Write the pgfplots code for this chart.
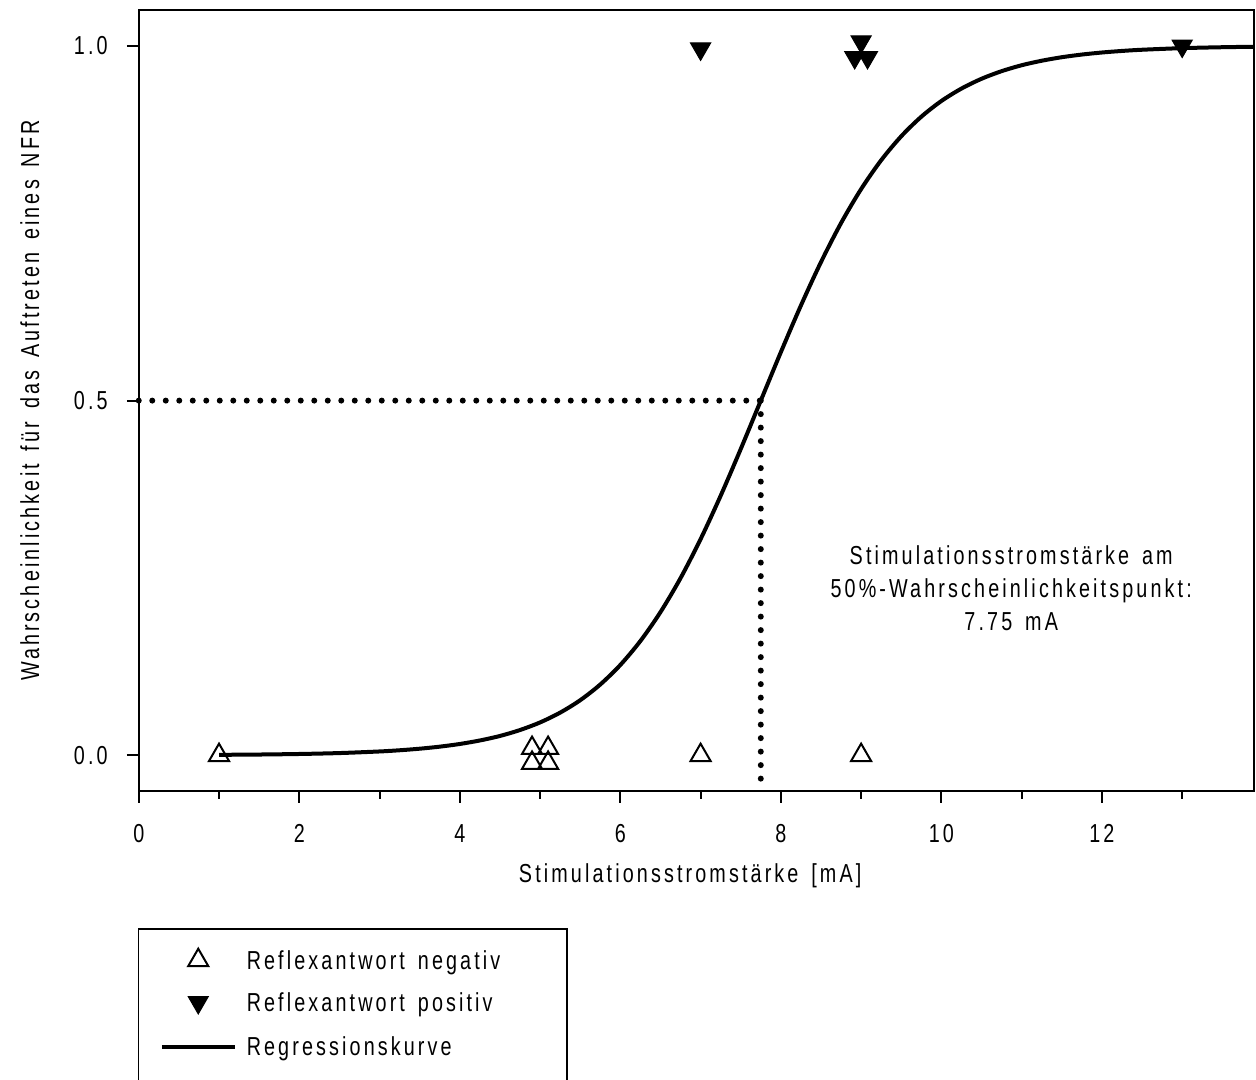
\documentclass[border=0pt]{standalone}
\usepackage{fontspec}
\setmainfont{Liberation Sans}[FakeStretch=0.76, LetterSpace=12, WordSpace=1.5]
\usepackage{pgfplots}
\pgfplotsset{compat=1.18}
\begin{document}
\begin{tikzpicture}[font=\fontsize{13pt}{15.5pt}\selectfont]
\path[use as bounding box] (-69.375pt,-144.15pt) rectangle (558.6pt,395.35pt);
\begin{axis}[
  scale only axis, width=557.4pt, height=390.1pt,
  xmin=0, xmax=13.89, ymin=-0.05, ymax=1.05,
  clip=false,
  axis line style={line width=1pt},
  tick align=outside, tick pos=left,
  xtick={0,2,...,12}, minor xtick={1,3,...,13},
  ytick={0,0.5,1},
  major tick length=6pt, minor tick length=4pt,
  every major tick/.append style={black, line width=1pt},
  every minor tick/.append style={black, line width=1pt},
  /pgf/number format/assume math mode=true,
  yticklabel style={/pgf/number format/fixed, /pgf/number format/fixed zerofill, /pgf/number format/precision=1, anchor=east, xshift=-6pt},
  xticklabel style={anchor=base, yshift=-20pt},
  xlabel={Stimulationsstromstärke [mA]},
  ylabel={Wahrscheinlichkeit für das Auftreten eines NFR},
  every axis x label/.style={at={([xshift=-3pt,yshift=-46pt]rel axis cs:0.5,0)}, anchor=base},
  every axis y label/.style={at={([xshift=-54.5pt]rel axis cs:0,0.5)}, rotate=90, anchor=center},
  legend style={draw=none, fill=none, at={(0,0)}, anchor=north west, xshift=10.5pt, yshift=-79pt,
    inner sep=0pt, outer sep=0pt, row sep=12pt,
    nodes={inner sep=0pt, text height=9pt, text depth=0pt},
    /tikz/every odd column/.append style={column sep=5pt}},
  legend cell align=left,
  legend image code/.code={\draw[mark repeat=2, mark phase=2, #1] plot coordinates {(0pt,0pt) (18.25pt,0pt) (36.5pt,0pt)};},
]
\addplot[only marks, mark=triangle, mark size=5.8pt, mark options={line width=1pt, fill=white}]
  coordinates {(1,0) (4.9,0.01) (5.1,0.01) (4.9,-0.011) (5.1,-0.011) (7,0) (9,0)};
\addlegendentry{Reflexantwort negativ}
\addplot[only marks, mark=triangle*, mark size=5.8pt, mark options={rotate=180, fill=black, line width=0.5pt}]
  coordinates {(7,0.996) (9,1.006) (8.92,0.984) (9.08,0.984) (13,1.0)};
\addlegendentry{Reflexantwort positiv}
\addplot[black, line width=2pt, smooth, no marks] coordinates {
 (1,0.000596) (1.5,0.00103) (2,0.00179) (2.5,0.00309) (3,0.00535) (3.25,0.00704) (3.5,0.00924)
 (3.75,0.01213) (4,0.0159) (4.25,0.02084) (4.5,0.0272) (4.75,0.03557) (5,0.0463) (5.25,0.0601)
 (5.5,0.0776) (5.75,0.09975) (6,0.1273) (6.25,0.1611)
 (6.5,0.2018) (6.75,0.2497) (7,0.3047) (7.25,0.3659) (7.5,0.4317) (7.75,0.5)
 (8,0.5683) (8.25,0.6341) (8.5,0.6953) (8.75,0.7503) (9,0.7982) (9.25,0.8389)
 (9.5,0.8727) (9.75,0.90025) (10,0.9224) (10.25,0.9399) (10.5,0.9537) (10.75,0.96443)
 (11,0.9728) (11.25,0.97916) (11.5,0.9841) (11.75,0.98787) (12,0.99076) (12.25,0.99296)
 (12.5,0.99465) (13,0.99691) (13.5,0.99821) (13.89,0.99885)};
\addlegendentry{Regressionskurve}
\addplot[forget plot, black, line width=3pt, line cap=round, dash pattern=on 0pt off 6.75pt] coordinates {(0,0.5) (7.75,0.5)};
\addplot[forget plot, black, line width=3pt, line cap=round, dash pattern=on 0pt off 6.75pt] coordinates {(7.75,0.5) (7.75,-0.05)};
\node[align=center, font=\fontsize{13pt}{16.5pt}\selectfont] at (axis cs:10.87,0.2355)
  {Stimulationsstromstärke am\\50\%-Wahrscheinlichkeitspunkt:\\7.75 mA};
\end{axis}
\draw[line width=0.6pt] (0,-160pt) -- (0,-69.15pt) -- (214.1pt,-69.15pt) -- (214.1pt,-160pt);
\end{tikzpicture}
\end{document}
